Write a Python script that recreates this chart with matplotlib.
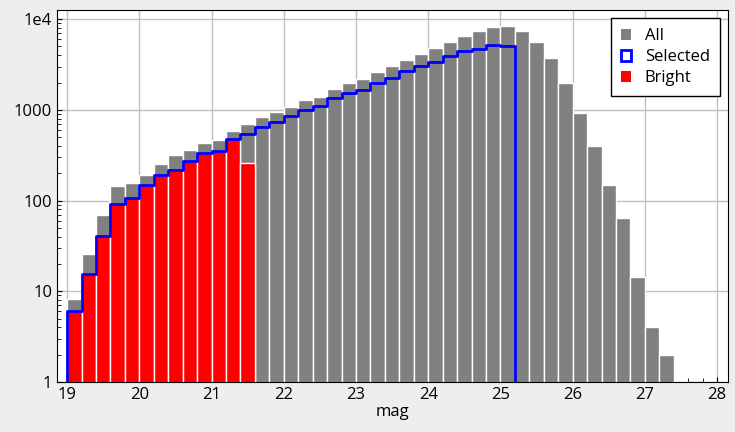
import numpy as np
import matplotlib
matplotlib.use("Agg")
import matplotlib.pyplot as plt
from matplotlib.patches import Patch
from matplotlib.ticker import FixedLocator, MultipleLocator, NullFormatter

bin_edges = [round(19.0 + 0.2 * i, 1) for i in range(43)]
all_counts = [8.2, 26, 69, 144, 156, 190, 252, 316, 360, 430, 464, 583, 697, 832, 944,
              1070, 1280, 1380, 1700, 1970, 2180, 2610, 3030, 3530, 4110, 4790, 5580,
              6500, 7380, 8130, 8370, 7380, 5580, 3720, 1970, 920, 400, 148, 64, 14.4, 4.0, 2.0]
selected = [6.1, 15.6, 41, 92, 107, 149, 192, 219, 275, 332, 355, 472, 540, 640, 733,
            847, 993, 1110, 1350, 1530, 1650, 1970, 2240, 2670, 3030, 3360, 3900, 4440,
            4670, 5170, 5080]
bright = [6.1, 15.6, 41, 92, 107, 149, 192, 219, 275, 332, 355, 472, 258]

plt.rcParams['font.family'] = ['Open Sans', 'DejaVu Sans']
fig = plt.figure(figsize=(7.35, 4.32), dpi=100, facecolor='#eeeeee')
ax = fig.add_axes([57/735, 1-382/432, (728-57)/735, (382-10)/432])
ax.set_facecolor('white')
w = 0.2
left = np.array(bin_edges[:-1])
ax.bar(left[:len(all_counts)], all_counts, width=w, align='edge', color='#808080',
       edgecolor='white', linewidth=1, zorder=2)
ax.bar(left[:len(bright)], bright, width=w, align='edge', color='red',
       edgecolor='white', linewidth=1, zorder=3)
sx = [bin_edges[0]]
sy = [1]
for i, v in enumerate(selected):
    sx += [bin_edges[i], bin_edges[i + 1]]
    sy += [v, v]
sx.append(bin_edges[len(selected)])
sy.append(1)
ax.plot(sx, sy, color='blue', lw=2, zorder=4)

ax.set_yscale('log')
ax.set_ylim(1, 12600)
ax.set_xlim(18.86, 28.15)
ax.yaxis.set_major_locator(FixedLocator([1, 10, 100, 1000, 10000]))
ax.set_yticklabels(['1', '10', '100', '1000', '1e4'])
ax.xaxis.set_major_locator(MultipleLocator(1))
ax.xaxis.set_minor_locator(MultipleLocator(0.2))
ax.tick_params(axis='both', which='both', direction='in', labelsize=12)
ax.tick_params(which='minor', length=3)
ax.grid(True, color='#c0c0c0', lw=1, zorder=0)
ax.set_axisbelow(True)
ax.set_xlabel('mag', fontsize=12, labelpad=1)
for s in ax.spines.values():
    s.set_color('black')

handles = [Patch(facecolor='#808080', label='All'),
           Patch(facecolor='none', edgecolor='blue', lw=2, label='Selected'),
           Patch(facecolor='red', label='Bright')]
leg = ax.legend(handles=handles, loc='upper right', fontsize=12, fancybox=False,
                edgecolor='black', framealpha=1, handlelength=0.6, handletextpad=0.8,
                labelspacing=0.3, borderpad=0.6)
leg.get_frame().set_linewidth(1)
fig.savefig('out.png', dpi=100, facecolor=fig.get_facecolor())
